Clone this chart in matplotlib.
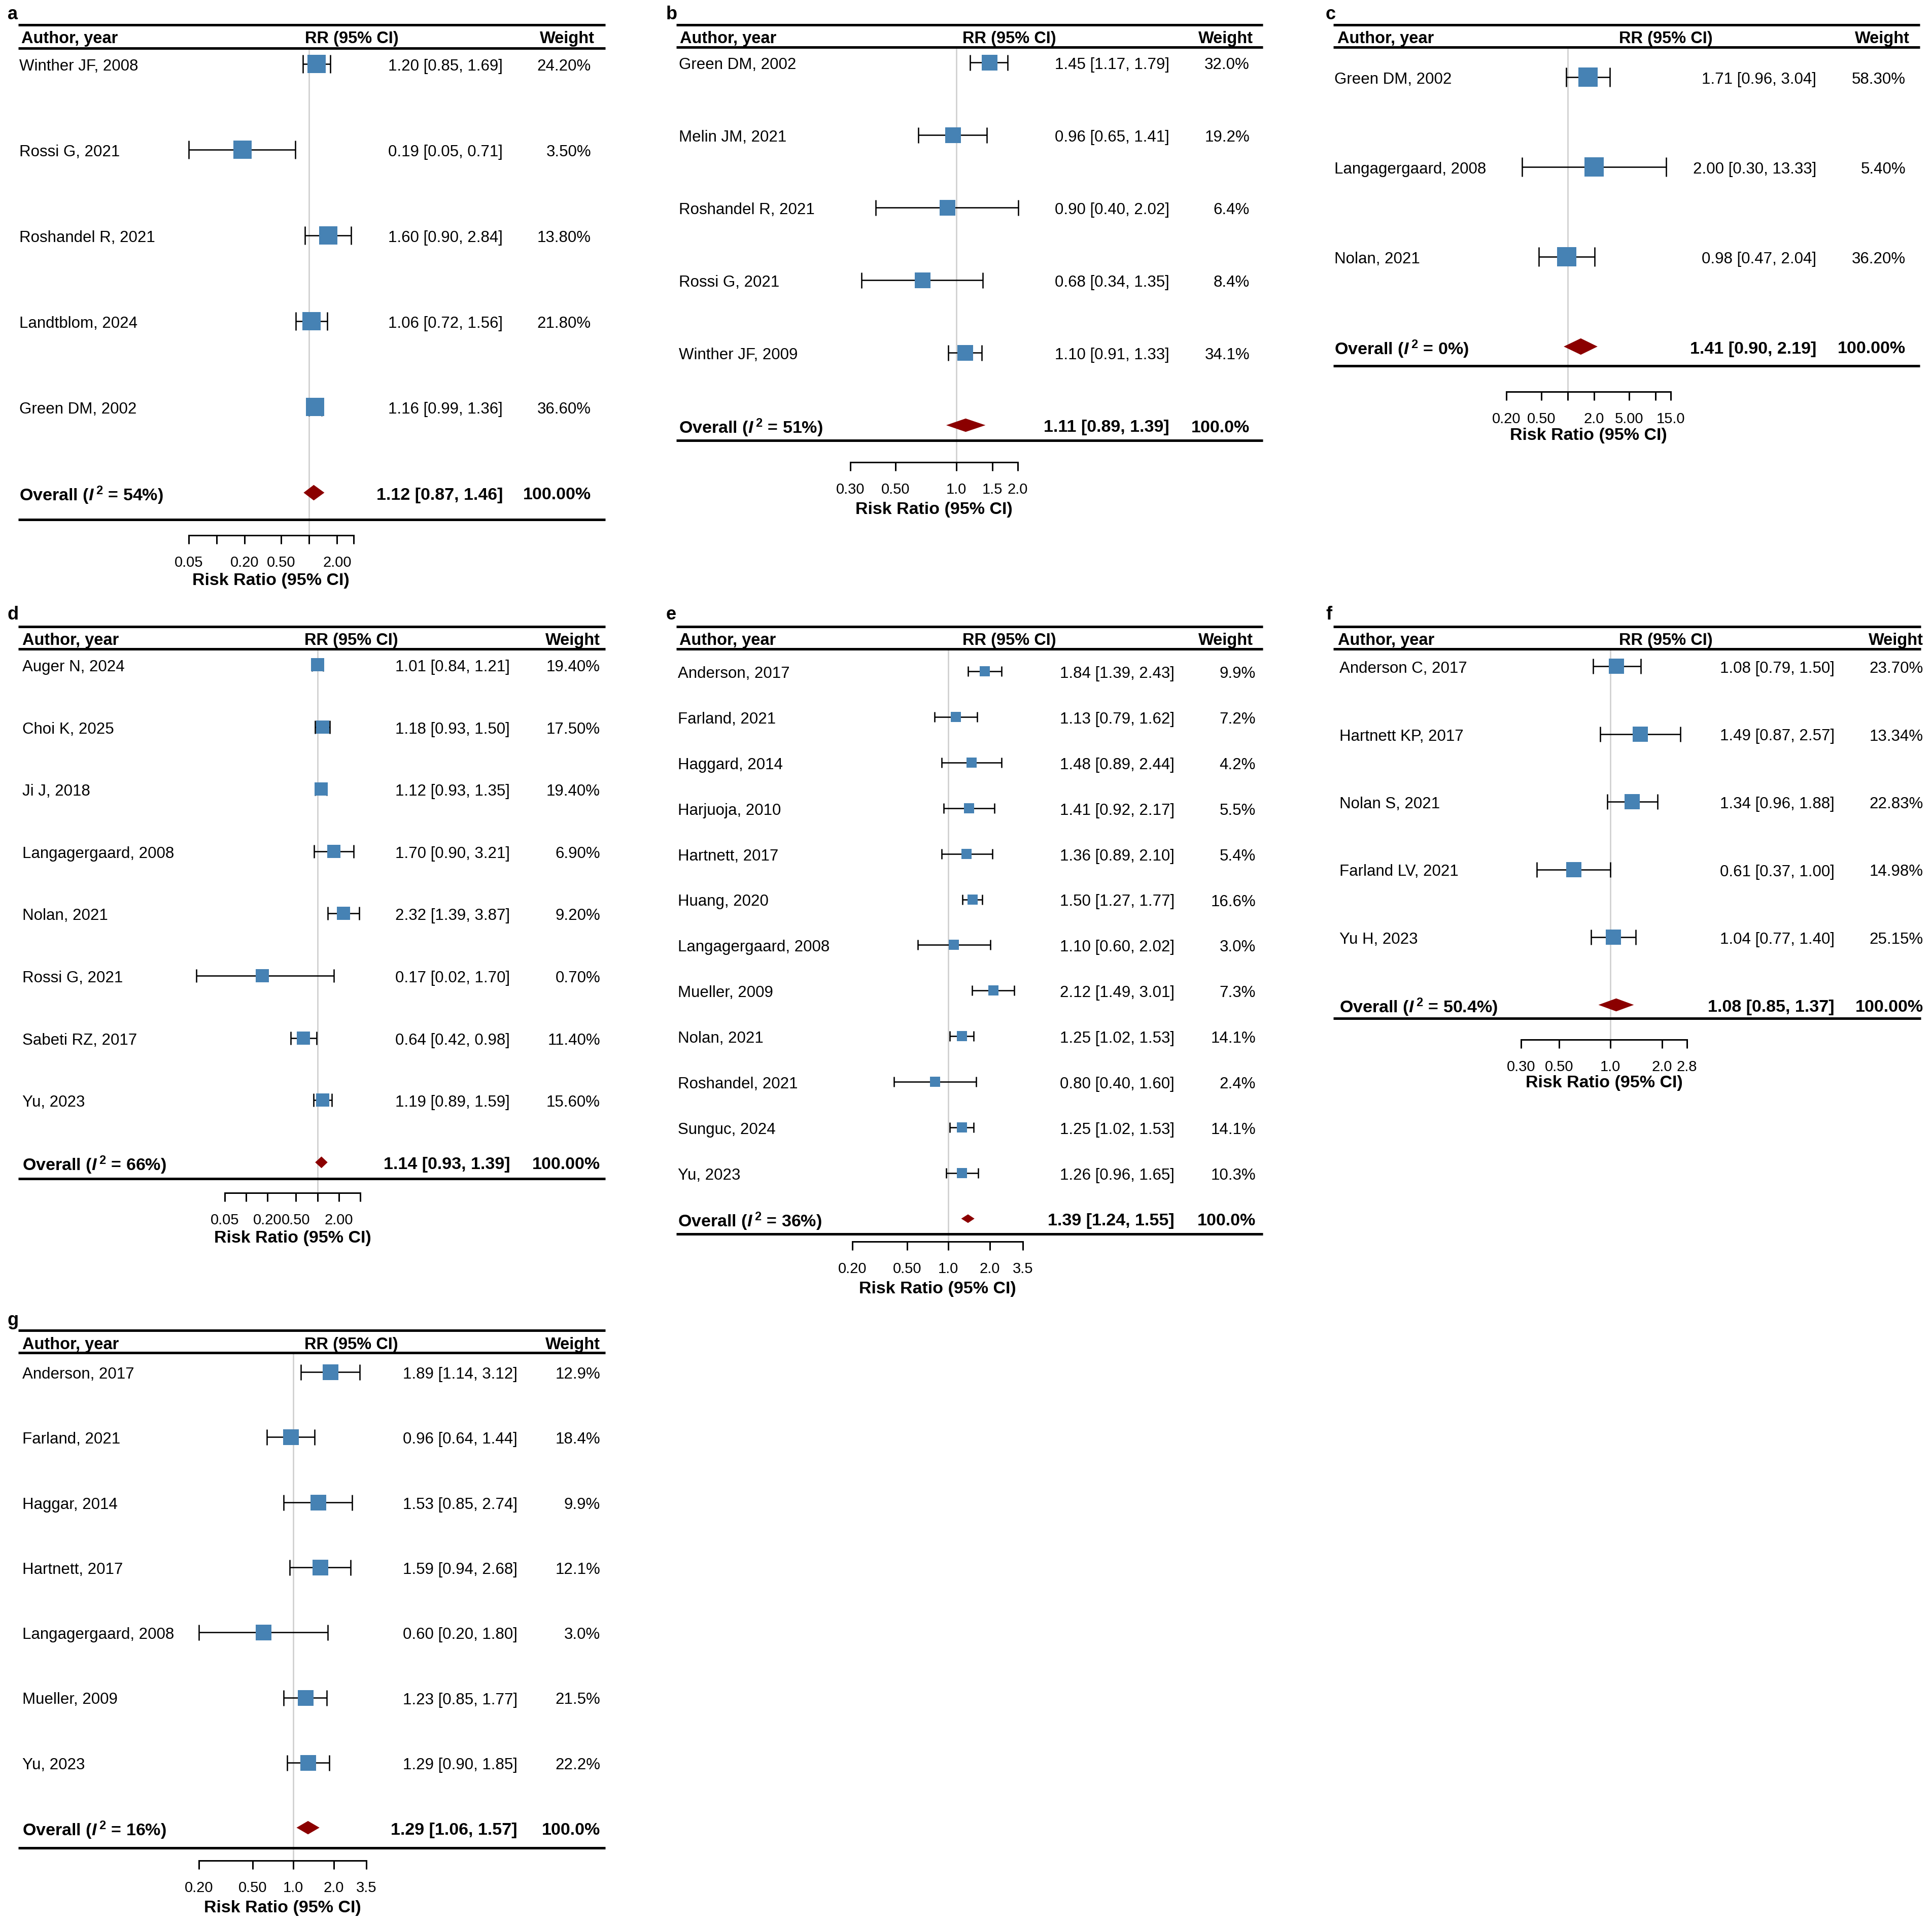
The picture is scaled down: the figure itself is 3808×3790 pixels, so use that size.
import numpy as np
import matplotlib
matplotlib.use("Agg")
import matplotlib.pyplot as plt
import matplotlib.transforms as mtransforms
from matplotlib.ticker import NullLocator

# --- figure size in pixels ---
W, H = 3808, 3791
DPI = 100
PT = 72 / DPI          # points per pixel

plt.rcParams['font.family'] = 'Liberation Sans'
plt.rcParams['mathtext.fontset'] = 'custom'
plt.rcParams['mathtext.it'] = 'Liberation Sans:italic:bold'
plt.rcParams['mathtext.rm'] = 'Liberation Sans:bold'
plt.rcParams['mathtext.bf'] = 'Liberation Sans:bold'

FS = 22.5       # table text (regular)
FS_H = 23.5     # column headers
FS_B = 24.5     # bold text: overall row, axis title
FS_TICK = 21    # tick labels
FS_LAB = 26     # panel letters
DY = 4          # text nudge (px) so glyphs sit centred on the row
BOX_COL = '#4682B4'
DIA_COL = '#8B0000'

# --- Data ---
# panel a
authors_a = ["Winther JF, 2008", "Rossi G, 2021", "Roshandel R, 2021", "Landtblom, 2024", "Green DM, 2002"]
rr_a = [1.20, 0.19, 1.60, 1.06, 1.16]
lo_a = [0.85, 0.05, 0.90, 0.72, 0.99]
hi_a = [1.69, 0.71, 2.84, 1.56, 1.36]
wt_a = [24.20, 3.50, 13.80, 21.80, 36.60]
ov_a = [1.12, 0.87, 1.46]
i2_a = "54%"
ticks_a = [0.05, 0.1, 0.2, 0.5, 1, 2, 3]
tlab_a = ["0.05", "", "0.20", "0.50", "", "2.00", ""]

# panel b
authors_b = ["Green DM, 2002", "Melin JM, 2021", "Roshandel R, 2021", "Rossi G, 2021", "Winther JF, 2009"]
rr_b = [1.45, 0.96, 0.90, 0.68, 1.10]
lo_b = [1.17, 0.65, 0.40, 0.34, 0.91]
hi_b = [1.79, 1.41, 2.02, 1.35, 1.33]
wt_b = [32.0, 19.2, 6.4, 8.4, 34.1]
ov_b = [1.11, 0.89, 1.39]
i2_b = "51%"
ticks_b = [0.3, 0.5, 1, 1.5, 2]
tlab_b = ["0.30", "0.50", "1.0", "1.5", "2.0"]

# panel c
authors_c = ["Green DM, 2002", "Langagergaard, 2008", "Nolan, 2021"]
rr_c = [1.71, 2.00, 0.98]
lo_c = [0.96, 0.30, 0.47]
hi_c = [3.04, 13.33, 2.04]
wt_c = [58.30, 5.40, 36.20]
ov_c = [1.41, 0.90, 2.19]
i2_c = "0%"
ticks_c = [0.2, 0.5, 1, 2, 5, 10, 15]
tlab_c = ["0.20", "0.50", "", "2.0", "5.00", "", "15.0"]

# panel d
authors_d = ["Auger N, 2024", "Choi K, 2025", "Ji J, 2018", "Langagergaard, 2008",
             "Nolan, 2021", "Rossi G, 2021", "Sabeti RZ, 2017", "Yu, 2023"]
rr_d = [1.01, 1.18, 1.12, 1.70, 2.32, 0.17, 0.64, 1.19]
lo_d = [0.84, 0.93, 0.93, 0.90, 1.39, 0.02, 0.42, 0.89]
hi_d = [1.21, 1.50, 1.35, 3.21, 3.87, 1.70, 0.98, 1.59]
wt_d = [19.40, 17.50, 19.40, 6.90, 9.20, 0.70, 11.40, 15.60]
ov_d = [1.14, 0.93, 1.39]
i2_d = "66%"
ticks_d = [0.05, 0.1, 0.2, 0.5, 1, 2, 4]
tlab_d = ["0.05", "", "0.20", "0.50", "", "2.00", ""]

# panel e
authors_e = ["Anderson, 2017", "Farland, 2021", "Haggard, 2014", "Harjuoja, 2010", "Hartnett, 2017",
             "Huang, 2020", "Langagergaard, 2008", "Mueller, 2009", "Nolan, 2021",
             "Roshandel, 2021", "Sunguc, 2024", "Yu, 2023"]
rr_e = [1.84, 1.13, 1.48, 1.41, 1.36, 1.50, 1.10, 2.12, 1.25, 0.80, 1.25, 1.26]
lo_e = [1.39, 0.79, 0.89, 0.92, 0.89, 1.27, 0.60, 1.49, 1.02, 0.40, 1.02, 0.96]
hi_e = [2.43, 1.62, 2.44, 2.17, 2.10, 1.77, 2.02, 3.01, 1.53, 1.60, 1.53, 1.65]
wt_e = [9.9, 7.2, 4.2, 5.5, 5.4, 16.6, 3.0, 7.3, 14.1, 2.4, 14.1, 10.3]
ov_e = [1.39, 1.24, 1.55]
i2_e = "36%"
ticks_e = [0.2, 0.5, 1, 2, 3.5]
tlab_e = ["0.20", "0.50", "1.0", "2.0", "3.5"]

# panel f
authors_f = ["Anderson C, 2017", "Hartnett KP, 2017", "Nolan S, 2021", "Farland LV, 2021", "Yu H, 2023"]
rr_f = [1.08, 1.49, 1.34, 0.61, 1.04]
lo_f = [0.79, 0.87, 0.96, 0.37, 0.77]
hi_f = [1.50, 2.57, 1.88, 1.00, 1.40]
wt_f = [23.70, 13.34, 22.83, 14.98, 25.15]
ov_f = [1.08, 0.85, 1.37]
i2_f = "50.4%"
ticks_f = [0.3, 0.5, 1, 2, 2.8]
tlab_f = ["0.30", "0.50", "1.0", "2.0", "2.8"]

# panel g
authors_g = ["Anderson, 2017", "Farland, 2021", "Haggar, 2014", "Hartnett, 2017",
             "Langagergaard, 2008", "Mueller, 2009", "Yu, 2023"]
rr_g = [1.89, 0.96, 1.53, 1.59, 0.60, 1.23, 1.29]
lo_g = [1.14, 0.64, 0.85, 0.94, 0.20, 0.85, 0.90]
hi_g = [3.12, 1.44, 2.74, 2.68, 1.80, 1.77, 1.85]
wt_g = [12.9, 18.4, 9.9, 12.1, 3.0, 21.5, 22.2]
ov_g = [1.29, 1.06, 1.57]
i2_g = "16%"
ticks_g = [0.2, 0.5, 1, 2, 3.5]
tlab_g = ["0.20", "0.50", "1.0", "2.0", "3.5"]

# --- Layout of each panel (pixels) ---
lay_a = dict(label='a', lab_x=15, lab_y=29, L=36, R=1193, top=50, head=73, head_rule=95.5,
             row0=127, pitch=169, bottom=1024.5, axis=1056, title=1145,
             author_x=38, head_x=42, rr_x=601, est_r=991, wt_r=1165, wt_head_r=1172,
             one=609.4, k=182.7, box=36, ndec=2)
lay_b = dict(label='b', lab_x=1313, lab_y=29, L=1333, R=2489, top=50, head=73, head_rule=94,
             row0=124, pitch=143, bottom=869, axis=912, title=1004,
             author_x=1338, head_x=1340, rr_x=1897, est_r=2305, wt_r=2463, wt_head_r=2470,
             one=1885.2, k=400, box=31, ndec=1)
lay_c = dict(label='c', lab_x=2613, lab_y=29, L=2628, R=3784, top=50, head=73, head_rule=94,
             row0=153, pitch=177, bottom=722, axis=773, title=859,
             author_x=2630, head_x=2636, rr_x=3191, est_r=3580, wt_r=3756, wt_head_r=3764,
             one=3090, k=172.7, box=38, ndec=2)
lay_d = dict(label='d', lab_x=15, lab_y=1212, L=36, R=1193, top=1236, head=1258, head_rule=1280,
             row0=1311, pitch=122.6, bottom=2324, axis=2352, title=2440,
             author_x=44, head_x=44, rr_x=600, est_r=1005, wt_r=1183, wt_head_r=1183,
             one=625.6, k=140.5, box=27, ndec=2)
lay_e = dict(label='e', lab_x=1313, lab_y=1212, L=1333, R=2489, top=1236, head=1258, head_rule=1280,
             row0=1324, pitch=89.9, bottom=2433, axis=2448, title=2541,
             author_x=1336, head_x=1339, rr_x=1897, est_r=2315, wt_r=2475, wt_head_r=2470,
             one=1869.3, k=270.4, box=20, ndec=1)
lay_f = dict(label='f', lab_x=2613, lab_y=1212, L=2628, R=3786, top=1236, head=1258, head_rule=1280,
             row0=1314, pitch=133.5, bottom=2008, axis=2050, title=2134,
             author_x=2640, head_x=2637, rr_x=3191, est_r=3616, wt_r=3791, wt_head_r=3791,
             one=3174.3, k=336.9, box=30, ndec=2)
lay_g = dict(label='g', lab_x=15, lab_y=2603, L=36, R=1193, top=2623, head=2647, head_rule=2667,
             row0=2705, pitch=128.3, bottom=3643, axis=3668, title=3760,
             author_x=44, head_x=44, rr_x=600, est_r=1020, wt_r=1183, wt_head_r=1183,
             one=577.7, k=265.8, box=31, ndec=1)

fig = plt.figure(figsize=(W / DPI, H / DPI), dpi=DPI, facecolor='white')


def panel(lay, authors, rr, lo, hi, wt, ov, i2, ticks, tlabels):
    L, R = lay['L'], lay['R']
    ax = fig.add_axes([L / W, 0, (R - L) / W, 1])
    ax.patch.set_visible(False)
    ax.set_xscale('log')
    ax.set_xlim(10 ** ((L - lay['one']) / lay['k']), 10 ** ((R - lay['one']) / lay['k']))
    ax.set_ylim(H, 0)
    tr = mtransforms.blended_transform_factory(fig.transFigure, ax.transData)

    rr, lo, hi = np.array(rr), np.array(lo), np.array(hi)
    n = len(rr)
    ys = lay['row0'] + lay['pitch'] * np.arange(n)
    y_ov = lay['row0'] + lay['pitch'] * n
    box = lay['box']
    nd = lay['ndec']

    # panel letter
    fig.text(lay['lab_x'] / W, 1 - lay['lab_y'] / H, lay['label'], fontsize=FS_LAB,
             fontweight='bold', ha='left', va='center')

    # rules
    for y in (lay['top'], lay['head_rule'], lay['bottom']):
        ax.plot([L / W, R / W], [y, y], transform=tr, color='black', lw=5 * PT,
                solid_capstyle='butt', clip_on=False)

    # header
    hy = lay['head'] + DY
    ax.text(lay['head_x'] / W, hy, "Author, year", transform=tr, fontsize=FS_H,
            fontweight='bold', ha='left', va='center')
    ax.text(lay['rr_x'] / W, hy, "RR (95% CI)", transform=tr, fontsize=FS_H,
            fontweight='bold', ha='left', va='center')
    ax.text(lay['wt_head_r'] / W, hy, "Weight", transform=tr, fontsize=FS_H,
            fontweight='bold', ha='right', va='center')

    # reference line at 1
    ax.plot([1, 1], [lay['head_rule'] + 2, lay['axis']], color='#D0D0D0', lw=2.7 * PT, zorder=1)

    # study rows
    for i in range(n):
        ty = ys[i] + DY
        ax.text(lay['author_x'] / W, ty, authors[i], transform=tr, fontsize=FS,
                ha='left', va='center')
        ax.text(lay['est_r'] / W, ty, f"{rr[i]:.2f} [{lo[i]:.2f}, {hi[i]:.2f}]",
                transform=tr, fontsize=FS, ha='right', va='center')
        ax.text(lay['wt_r'] / W, ty, f"{wt[i]:.{nd}f}%", transform=tr, fontsize=FS,
                ha='right', va='center')

    ax.errorbar(rr, ys, xerr=[rr - lo, hi - rr], fmt='none', ecolor='black',
                elinewidth=2.6 * PT, capsize=box * 0.5 * PT, capthick=2.6 * PT,
                zorder=3, clip_on=False)
    ax.plot(rr, ys, 's', ms=box * PT, color=BOX_COL, mew=0, zorder=4, clip_on=False)

    # overall row
    est, olo, ohi = ov
    h = box * 0.85
    ax.fill([olo, est, ohi, est], [y_ov, y_ov - h / 2, y_ov, y_ov + h / 2],
            color=DIA_COL, lw=0, zorder=4)
    ty = y_ov + DY
    ax.text(lay['author_x'] / W, ty, "Overall ($I^{\\,2}$ = " + i2 + ")", transform=tr,
            fontsize=FS_B, fontweight='bold', ha='left', va='center')
    ax.text(lay['est_r'] / W, ty, f"{est:.2f} [{olo:.2f}, {ohi:.2f}]", transform=tr,
            fontsize=FS_B, fontweight='bold', ha='right', va='center')
    ax.text(lay['wt_r'] / W, ty, f"{100:.{nd}f}%", transform=tr, fontsize=FS_B,
            fontweight='bold', ha='right', va='center')

    # x axis
    for s in ('top', 'left', 'right'):
        ax.spines[s].set_visible(False)
    sp = ax.spines['bottom']
    sp.set_position(('data', lay['axis']))
    sp.set_bounds(ticks[0], ticks[-1])
    sp.set_linewidth(3 * PT)
    ax.set_xticks(ticks)
    ax.set_xticklabels(tlabels)
    ax.xaxis.set_minor_locator(NullLocator())
    ax.tick_params(axis='x', direction='out', length=17 * PT, width=3 * PT,
                   labelsize=FS_TICK, pad=22 * PT)
    ax.set_yticks([])
    ax.text(np.sqrt(ticks[0] * ticks[-1]), lay['title'], "Risk Ratio (95% CI)",
            fontsize=FS_B, fontweight='bold', ha='center', va='center')


panel(lay_a, authors_a, rr_a, lo_a, hi_a, wt_a, ov_a, i2_a, ticks_a, tlab_a)
panel(lay_b, authors_b, rr_b, lo_b, hi_b, wt_b, ov_b, i2_b, ticks_b, tlab_b)
panel(lay_c, authors_c, rr_c, lo_c, hi_c, wt_c, ov_c, i2_c, ticks_c, tlab_c)
panel(lay_d, authors_d, rr_d, lo_d, hi_d, wt_d, ov_d, i2_d, ticks_d, tlab_d)
panel(lay_e, authors_e, rr_e, lo_e, hi_e, wt_e, ov_e, i2_e, ticks_e, tlab_e)
panel(lay_f, authors_f, rr_f, lo_f, hi_f, wt_f, ov_f, i2_f, ticks_f, tlab_f)
panel(lay_g, authors_g, rr_g, lo_g, hi_g, wt_g, ov_g, i2_g, ticks_g, tlab_g)

fig.savefig("out.png", dpi=DPI, facecolor='white')
